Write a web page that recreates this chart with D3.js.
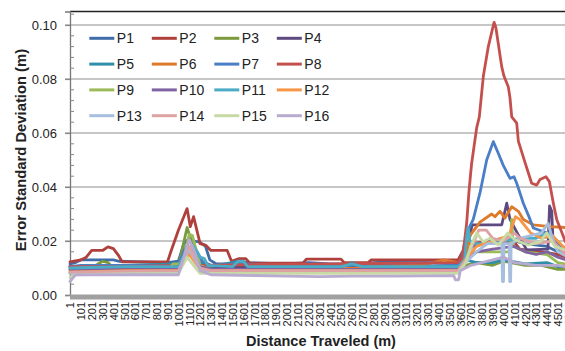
<!DOCTYPE html>
<html>
<head>
<meta charset="utf-8">
<script src="https://cdn.jsdelivr.net/npm/d3@7"></script>
<style>
  html, body { margin: 0; padding: 0; background: #fff; }
  svg { display: block; }
</style>
</head>
<body>
<script>
// ---- Data (distance traveled in m, error standard deviation in m) ----
const seriesNames = ["P1","P2","P3","P4","P5","P6","P7","P8","P9","P10","P11","P12","P13","P14","P15","P16"];
const seriesColors = ["#3E6DAA","#B0403C","#7A9A3D","#5F4A80","#2F8FA8","#DD7A2C","#4A7EC6","#C4504D",
                      "#9BBB59","#8064A2","#4BACC6","#F79646","#A7BEDF","#DDA3A2","#C7DAA6","#B9AACF"];
const xTickLabels = [1,101,201,301,401,501,601,701,801,901,1001,1101,1201,1301,1401,1501,1601,1701,1801,1901,
                     2001,2101,2201,2301,2401,2501,2601,2701,2801,2901,3001,3101,3201,3301,3401,3501,3601,3701,
                     3801,3901,4001,4101,4201,4301,4401,4501,4601];
const yTickValues = [0, 0.02, 0.04, 0.06, 0.08, 0.10];
const yMinorTicks = [0.004,0.008,0.012,0.016,0.024,0.028,0.032,0.036,0.044,0.048,0.052,0.056,0.064,0.068,0.072,0.076,0.084,0.088,0.092,0.096,0.104];

const P1 = [[1,0.0115],[51,0.012],[101,0.013],[401,0.013],[451,0.0125],[901,0.012],[1001,0.0125],[1051,0.019],[1101,0.021],[1151,0.02],[1201,0.0195],[1251,0.018],[1291,0.013],[1351,0.0115],[1501,0.0115],[1551,0.0125],[1651,0.012],[2001,0.0115],[2201,0.012],[2401,0.0115],[2701,0.0115],[2801,0.012],[3101,0.0125],[3301,0.012],[3581,0.0115],[3651,0.016],[3751,0.019],[3851,0.02],[4001,0.021],[4201,0.019],[4401,0.018],[4501,0.016],[4651,0.014]];
const P2 = [[1,0.0123],[101,0.013],[151,0.014],[201,0.0165],[301,0.0165],[351,0.0178],[401,0.0172],[451,0.0145],[481,0.0123],[901,0.0123],[931,0.016],[1001,0.024],[1081,0.032],[1111,0.0253],[1141,0.029],[1201,0.019],[1251,0.0185],[1301,0.0165],[1451,0.0165],[1491,0.0125],[1561,0.0135],[1621,0.0135],[1661,0.0118],[2151,0.0118],[2181,0.0133],[2501,0.0133],[2531,0.012],[2751,0.012],[2781,0.013],[3581,0.013],[3621,0.016],[3681,0.019],[3801,0.0195],[4101,0.0195],[4151,0.017],[4351,0.016],[4501,0.015],[4651,0.013]];
const P3 = [[1,0.0095],[201,0.01],[301,0.0125],[351,0.012],[401,0.01],[1001,0.0105],[1081,0.025],[1121,0.02],[1201,0.011],[1301,0.0095],[3581,0.0095],[3651,0.011],[3751,0.012],[3901,0.011],[4001,0.0125],[4201,0.011],[4351,0.011],[4501,0.0095],[4651,0.0095]];
const P4 = [[1,0.0105],[501,0.011],[1001,0.011],[1101,0.018],[1201,0.012],[1301,0.0105],[2001,0.0105],[2501,0.011],[3001,0.0105],[3581,0.0105],[3621,0.012],[3681,0.02],[3711,0.026],[3984,0.026],[4030,0.034],[4060,0.028],[4140,0.022],[4214,0.0167],[4410,0.017],[4425,0.033],[4445,0.031],[4457,0.02],[4501,0.017],[4651,0.015]];
const P5 = [[1,0.0105],[501,0.011],[1001,0.0115],[1101,0.017],[1201,0.012],[1301,0.0105],[1551,0.0125],[1621,0.011],[2501,0.0105],[2601,0.012],[2701,0.011],[3581,0.0105],[3651,0.013],[3751,0.012],[3901,0.012],[4001,0.013],[4201,0.0115],[4401,0.012],[4501,0.0105],[4651,0.0105]];
const P6 = [[1,0.009],[101,0.0095],[501,0.0095],[1001,0.0095],[1101,0.016],[1181,0.011],[1301,0.0095],[1801,0.0095],[2001,0.01],[2301,0.0095],[2701,0.01],[2901,0.0115],[3101,0.011],[3301,0.0115],[3451,0.013],[3581,0.012],[3654,0.014],[3691,0.022],[3783,0.027],[3891,0.03],[3921,0.029],[3968,0.031],[4014,0.0285],[4076,0.0327],[4137,0.031],[4183,0.028],[4275,0.026],[4429,0.0253],[4568,0.025],[4651,0.024]];
const P7 = [[1,0.0105],[101,0.011],[501,0.011],[1001,0.011],[1061,0.017],[1101,0.02],[1161,0.017],[1221,0.0125],[1301,0.011],[1551,0.0115],[2001,0.011],[2401,0.0105],[2801,0.0115],[3201,0.012],[3581,0.0115],[3615,0.014],[3660,0.023],[3721,0.028],[3783,0.0378],[3845,0.05],[3906,0.0568],[3952,0.0525],[3998,0.048],[4060,0.0432],[4097,0.0438],[4122,0.0414],[4183,0.034],[4245,0.028],[4275,0.0248],[4399,0.023],[4491,0.0197],[4568,0.0167],[4651,0.015]];
const P8 = [[1,0.0105],[501,0.0105],[1001,0.011],[1101,0.016],[1201,0.011],[3581,0.012],[3621,0.014],[3641,0.02],[3661,0.027],[3681,0.038],[3697,0.045],[3707,0.049],[3753,0.062],[3777,0.066],[3814,0.081],[3860,0.092],[3913,0.101],[3930,0.099],[3984,0.0845],[4005,0.081],[4045,0.077],[4060,0.073],[4076,0.066],[4122,0.0637],[4137,0.057],[4199,0.049],[4260,0.0414],[4306,0.0407],[4337,0.0428],[4392,0.0438],[4423,0.042],[4460,0.034],[4491,0.028],[4540,0.023],[4568,0.02],[4651,0.015]];
const P9 = [[1,0.008],[501,0.009],[901,0.009],[951,0.0115],[1001,0.0115],[1041,0.012],[1101,0.0225],[1131,0.022],[1201,0.011],[1301,0.009],[3581,0.009],[3651,0.013],[3751,0.016],[3901,0.016],[4061,0.016],[4075,0.028],[4090,0.018],[4201,0.016],[4401,0.015],[4501,0.012],[4651,0.011]];
const P10 = [[1,0.0095],[501,0.0095],[1001,0.0095],[1101,0.017],[1201,0.0105],[1301,0.0095],[3581,0.0095],[3651,0.013],[3751,0.016],[3901,0.017],[4101,0.018],[4201,0.016],[4301,0.015],[4401,0.016],[4501,0.014],[4651,0.012]];
const P11 = [[1,0.01],[501,0.0105],[1001,0.0105],[1081,0.017],[1141,0.018],[1201,0.014],[1241,0.0135],[1271,0.011],[1501,0.0105],[1551,0.0125],[1601,0.0125],[1641,0.0105],[2501,0.0105],[2601,0.0115],[2701,0.0105],[3581,0.0105],[3641,0.013],[3661,0.022],[3673,0.025],[3691,0.02],[3751,0.019],[3901,0.019],[4001,0.02],[4151,0.021],[4301,0.021],[4401,0.023],[4451,0.022],[4491,0.017],[4651,0.014]];
const P12 = [[1,0.0085],[501,0.009],[1001,0.009],[1101,0.015],[1201,0.0095],[1301,0.009],[3581,0.009],[3651,0.013],[3751,0.018],[3901,0.02],[4051,0.022],[4110,0.029],[4150,0.028],[4250,0.023],[4350,0.021],[4450,0.022],[4550,0.018],[4651,0.016]];
const P13 = [[1,0.008],[501,0.0085],[1001,0.0085],[1101,0.017],[1201,0.0095],[1301,0.0085],[2001,0.0085],[3581,0.0085],[3651,0.012],[3751,0.016],[3851,0.019],[3985,0.019],[3990,0.005],[4000,0.005],[4005,0.019],[4052,0.019],[4057,0.005],[4066,0.005],[4071,0.019],[4151,0.021],[4251,0.022],[4351,0.023],[4411,0.0265],[4451,0.021],[4501,0.016],[4651,0.013]];
const P14 = [[1,0.0085],[1001,0.009],[1101,0.018],[1201,0.01],[1301,0.009],[3581,0.009],[3651,0.013],[3721,0.019],[3771,0.024],[3841,0.024],[3901,0.021],[4001,0.02],[4101,0.023],[4151,0.021],[4301,0.019],[4451,0.02],[4551,0.016],[4651,0.013]];
const P15 = [[1,0.0065],[51,0.0075],[501,0.0078],[1001,0.008],[1081,0.014],[1141,0.011],[1201,0.008],[3581,0.008],[3651,0.012],[3707,0.019],[3753,0.023],[3811,0.0197],[3876,0.021],[3952,0.0185],[4041,0.023],[4106,0.0204],[4226,0.0185],[4337,0.0197],[4399,0.023],[4475,0.018],[4568,0.0167],[4651,0.016]];
const P16 = [[1,0.005],[51,0.0075],[1001,0.0075],[1101,0.0205],[1151,0.016],[1201,0.009],[1301,0.0075],[2001,0.007],[2301,0.0068],[2601,0.007],[3001,0.007],[3541,0.0072],[3556,0.0056],[3586,0.0056],[3601,0.009],[3701,0.011],[3801,0.012],[4001,0.014],[4101,0.012],[4301,0.011],[4501,0.011],[4651,0.01]];
const seriesData = [P1,P2,P3,P4,P5,P6,P7,P8,P9,P10,P11,P12,P13,P14,P15,P16];

// ---- Chart ----
const W = 565, H = 351;
const svg = d3.select("body").append("svg").attr("width", W).attr("height", H);
const font = "'Liberation Sans', Arial, sans-serif";

const x = d3.scaleLinear().domain([1, 4701]).range([70, 70 + 4700 * 0.1084]);
const y = d3.scaleLinear().domain([0, 0.105]).range([295, 11.5]);
const xRight = W + 20;

// gridlines (with outward major tick)
svg.append("g").selectAll("line").data(yTickValues.filter(v => v > 0)).join("line")
  .attr("x1", 65).attr("x2", xRight)
  .attr("y1", d => y(d)).attr("y2", d => y(d))
  .attr("stroke", "#B3B3B3").attr("stroke-width", 1.4);

// top border
svg.append("line").attr("x1", 70).attr("x2", xRight).attr("y1", y(0.105)).attr("y2", y(0.105))
  .attr("stroke", "#222").attr("stroke-width", 1.3);

// y axis with D3 (labels + major ticks)
const yAxis = d3.axisLeft(y).tickValues(yTickValues).tickFormat(d3.format(".2f")).tickSize(5).tickPadding(8);
const gy = svg.append("g").attr("transform", "translate(70,0)").call(yAxis);
gy.select(".domain").attr("stroke", "#777").attr("stroke-width", 1.3);
gy.selectAll(".tick line").attr("stroke", "#888").attr("stroke-width", 1.2);
gy.selectAll(".tick text").attr("font-family", font).attr("font-size", 13).attr("fill", "#222");

// minor ticks (inside)
svg.append("g").selectAll("line").data(yMinorTicks).join("line")
  .attr("x1", 70).attr("x2", 74)
  .attr("y1", d => y(d)).attr("y2", d => y(d))
  .attr("stroke", "#888").attr("stroke-width", 1);

// series lines
const line = d3.line().x(d => x(d[0])).y(d => y(d[1]));
svg.append("g").selectAll("path").data(seriesData).join("path")
  .attr("d", d => line(d))
  .attr("fill", "none")
  .attr("stroke", (d, i) => seriesColors[i])
  .attr("stroke-width", 2.8)
  .attr("stroke-linejoin", "round")
  .attr("stroke-linecap", "round");

// x axis thick band
svg.append("line").attr("x1", 70).attr("x2", xRight).attr("y1", 297).attr("y2", 297)
  .attr("stroke", "#A0A0A0").attr("stroke-width", 5);

// x axis labels
const xAxis = d3.axisBottom(x).tickValues(xTickLabels).tickSize(0).tickFormat(d3.format("d"));
const gx = svg.append("g").attr("transform", "translate(0,295)").call(xAxis);
gx.select(".domain").remove();
gx.selectAll(".tick text")
  .attr("font-family", font).attr("font-size", 11).attr("fill", "#222")
  .attr("text-anchor", "end")
  .attr("transform", "rotate(-90)")
  .attr("x", -7).attr("y", 0).attr("dy", "0.35em");

// axis titles
svg.append("text").attr("x", 321).attr("y", 346)
  .attr("text-anchor", "middle").attr("font-family", font).attr("font-weight", "bold")
  .attr("font-size", 14.5).attr("fill", "#222").text("Distance Traveled (m)");
svg.append("text").attr("transform", "translate(26,150) rotate(-90)")
  .attr("text-anchor", "middle").attr("font-family", font).attr("font-weight", "bold")
  .attr("font-size", 14.8).attr("fill", "#222").text("Error Standard Deviation (m)");

// legend
const lg = svg.append("g").selectAll("g").data(seriesNames).join("g")
  .attr("transform", (d, i) => `translate(${89.3 + (i % 4) * 62.5},${38.3 + Math.floor(i / 4) * 25.8})`);
lg.append("line").attr("x1", 0).attr("x2", 25).attr("y1", 0).attr("y2", 0)
  .attr("stroke", (d, i) => seriesColors[i]).attr("stroke-width", 3);
lg.append("text").attr("x", 27.5).attr("y", 0).attr("dy", "0.36em")
  .attr("font-family", font).attr("font-size", 14).attr("fill", "#222").text(d => d);
</script>
</body>
</html>
